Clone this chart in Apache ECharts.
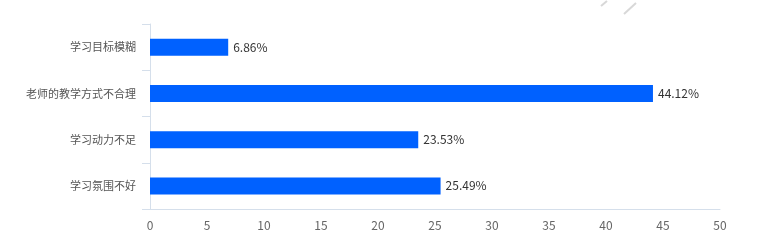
<!DOCTYPE html>
<html><head><meta charset="utf-8">
<script src="https://cdn.jsdelivr.net/npm/echarts@6/dist/echarts.min.js"></script>
<style>html,body{margin:0;padding:0;background:#fff}#c{width:765px;height:252px}</style>
</head><body><div id="c"></div>
<script>
const categories = ['学习氛围不好', '学习动力不足', '老师的教学方式不合理', '学习目标模糊'];
const values = [25.49, 23.53, 44.12, 6.86];
const xTicks = [0, 5, 10, 15, 20, 25, 30, 35, 40, 45, 50];

const chart = echarts.init(document.getElementById('c'), null, {renderer: 'canvas'});
const font = '"Microsoft YaHei","Noto Sans CJK SC",sans-serif';
chart.setOption({
  animation: false,
  textStyle: {fontFamily: font},
  grid: {left: 150, right: 45, top: 24, bottom: 43, containLabel: false},
  xAxis: {
    type: 'value', min: xTicks[0], max: xTicks[xTicks.length - 1], interval: 5,
    axisLine: {show: true, lineStyle: {color: '#d5dfeb', width: 1}},
    axisTick: {show: false},
    splitLine: {show: false},
    axisLabel: {color: '#666', fontSize: 12, margin: 10, fontFamily: font}
  },
  yAxis: {
    type: 'category', data: categories,
    axisLine: {show: true, lineStyle: {color: '#d5dfeb', width: 1}},
    axisTick: {show: true, length: 8, lineStyle: {color: '#d5dfeb'}},
    axisLabel: {color: '#555', fontSize: 11, margin: 14, fontFamily: font},
    splitLine: {show: false}
  },
  series: [{
    type: 'bar', data: values, barWidth: 17,
    itemStyle: {color: '#0061ff'},
    label: {show: true, position: 'right', distance: 5, color: '#333', fontSize: 12,
      fontFamily: font, formatter: p => p.value.toFixed(2) + '%'}
  }],
  graphic: [
    {type: 'line', shape: {x1: 601, y1: 6, x2: 607, y2: 1}, style: {stroke: '#d8d8d8', lineWidth: 2}},
    {type: 'line', shape: {x1: 624, y1: 14, x2: 636, y2: 3}, style: {stroke: '#d8d8d8', lineWidth: 2}}
  ]
});
</script></body></html>
